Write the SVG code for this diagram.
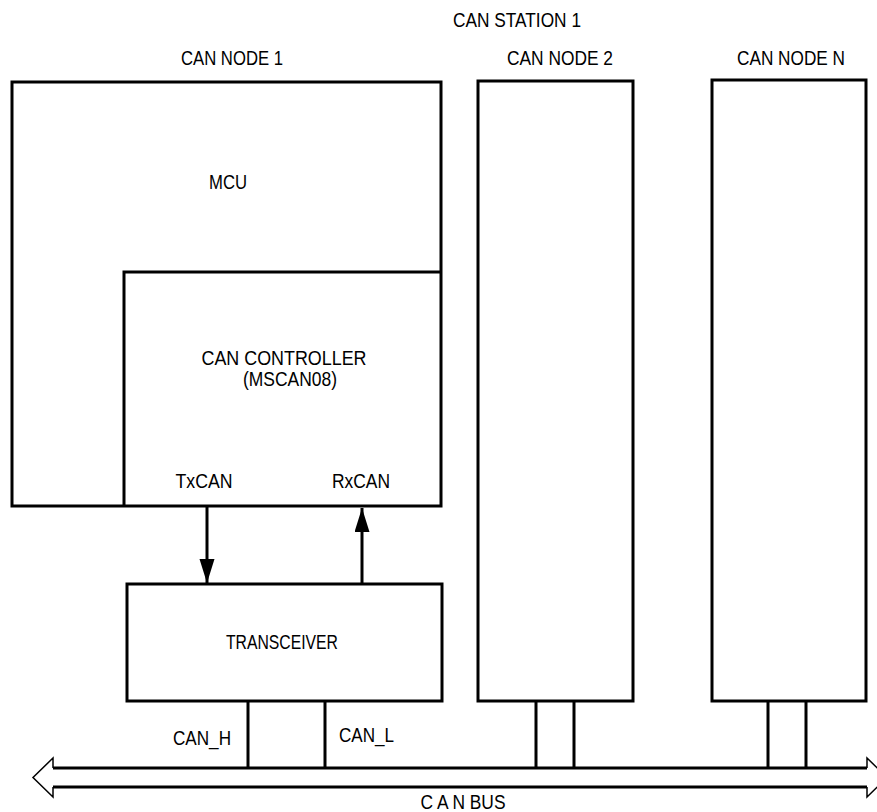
<svg xmlns="http://www.w3.org/2000/svg" width="877" height="812" viewBox="0 0 877 812">
<style>
.box{fill:none;stroke:#000;stroke-width:3}
.ln{fill:none;stroke:#000;stroke-width:3}
.thin{fill:none;stroke:#000;stroke-width:1.5;stroke-linejoin:miter}
text{font-family:"Liberation Sans",Arial,sans-serif;font-size:19.5px;fill:#000}
.c{text-anchor:middle}
</style>
<defs>
<marker id="ah" markerUnits="userSpaceOnUse" markerWidth="24" markerHeight="16" refX="24" refY="7.5" orient="auto">
<path d="M0,0 L24,7.5 L0,15 z" fill="#000"/>
</marker>
</defs>
<text class="c" x="517" y="27" textLength="128" lengthAdjust="spacingAndGlyphs">CAN STATION 1</text>
<g id="node1">
<text class="c" x="232" y="65" textLength="102" lengthAdjust="spacingAndGlyphs">CAN NODE 1</text>
<path class="box" d="M12,506 L12,82 L441,82 L441,506 Z"/>
<text class="c" x="228" y="189" textLength="38" lengthAdjust="spacingAndGlyphs">MCU</text>
</g>
<g id="controller">
<path class="box" d="M124,506 L124,272 L441,272"/>
<text class="c" x="284" y="365" textLength="165" lengthAdjust="spacingAndGlyphs">CAN CONTROLLER</text>
<text class="c" x="290" y="386" textLength="94" lengthAdjust="spacingAndGlyphs">(MSCAN08)</text>
<text class="c" x="204" y="488" textLength="57" lengthAdjust="spacingAndGlyphs">TxCAN</text>
<text class="c" x="361" y="488" textLength="58" lengthAdjust="spacingAndGlyphs">RxCAN</text>
</g>
<g id="transceiver">
<rect class="box" x="127" y="584" width="315" height="117"/>
<text class="c" x="282" y="649" textLength="112" lengthAdjust="spacingAndGlyphs">TRANSCEIVER</text>
<text x="173" y="745" textLength="58" lengthAdjust="spacingAndGlyphs">CAN_H</text>
<text x="339" y="742" textLength="55" lengthAdjust="spacingAndGlyphs">CAN_L</text>
</g>
<g id="node2">
<text class="c" x="560" y="65" textLength="106" lengthAdjust="spacingAndGlyphs">CAN NODE 2</text>
<rect class="box" x="478" y="81" width="155" height="620"/>
</g>
<g id="nodeN">
<text class="c" x="791" y="65" textLength="108" lengthAdjust="spacingAndGlyphs">CAN NODE N</text>
<rect class="box" x="712" y="80" width="154" height="621"/>
</g>
<g id="bus">
<path class="ln" d="M53,768 L867,768 M53,787 L867,787"/>
<path class="thin" d="M53,768 L53,758 L33,777.5 L53,797 L53,787"/>
<path class="thin" d="M867,768 L867,758 L887,777.5 L867,797 L867,787"/>
<text class="c" x="463" y="809" textLength="85" lengthAdjust="spacingAndGlyphs">C A N BUS</text>
</g>
<g id="connectors">
<path class="ln" d="M207,507 L207,583" marker-end="url(#ah)"/>
<path class="ln" d="M362,584 L362,508" marker-end="url(#ah)"/>
<path class="ln" d="M248,701 L248,768 M325,701 L325,768"/>
<path class="ln" d="M536,701 L536,768 M574,701 L574,768"/>
<path class="ln" d="M768,701 L768,768 M806,701 L806,768"/>
</g>
</svg>
